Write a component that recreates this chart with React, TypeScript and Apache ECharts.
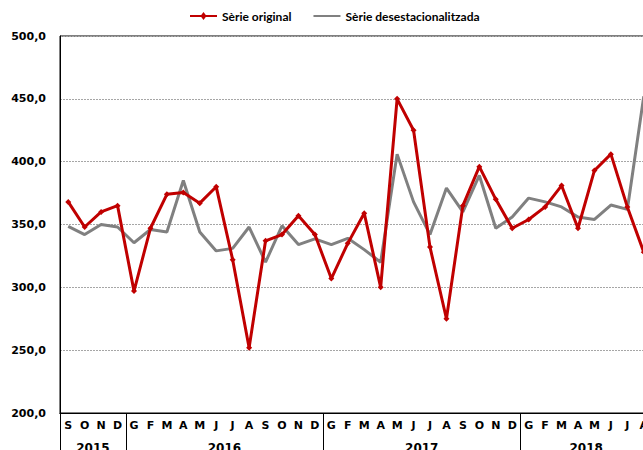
import React, { useEffect, useRef } from "react";
import * as echarts from "echarts";

const months = [
  "S", "O", "N", "D",
  "G", "F", "M", "A", "M", "J", "J", "A", "S", "O", "N", "D",
  "G", "F", "M", "A", "M", "J", "J", "A", "S", "O", "N", "D",
  "G", "F", "M", "A", "M", "J", "J", "A",
];
const years = ["2015", "2016", "2017", "2018"];
const monthsPerYear = [4, 12, 12, 8];
const serieOriginal = [
  368, 348, 360, 365,
  297, 347, 374, 375.5, 367, 380, 322, 252, 337, 342, 357, 342,
  307, 335, 359, 300, 450, 425, 332, 275, 365, 396, 370, 347,
  354, 364, 381, 347, 393, 406, 364, 328,
];
const serieDesest = [
  348.5, 342, 350, 348,
  335.5, 346, 344, 385, 344, 329, 331, 348, 320, 349, 334, 338.5,
  334, 339, 330, 320, 406, 368, 342, 379, 360, 389, 347, 356,
  371, 368, 364, 356, 354, 365.5, 362, 452,
];
const yTicks = { min: 200, max: 500, interval: 50 };

export default function App() {
  const ref = useRef<HTMLDivElement>(null);
  useEffect(() => {
    if (!ref.current) return;
    const chart = echarts.init(ref.current, null, { renderer: "svg" });
    const bounds: number[] = [];
    const centers: number[] = [];
    let acc = 0;
    monthsPerYear.forEach((n) => {
      bounds.push(acc);
      centers.push(acc + n / 2);
      acc += n;
    });
    chart.setOption({
      animation: false,
      backgroundColor: "#ffffff",
      legend: {
        left: 185,
        top: 5,
        itemWidth: 27,
        itemHeight: 8,
        itemGap: 22,
        textStyle: { fontFamily: "Lato", fontWeight: "bold", fontSize: 12, color: "#000" },
        data: [
          { name: "Sèrie original", icon: "path://M0,4 L27,4 L27,6 L0,6 Z M13.5,1 L16.5,5 L13.5,9 L10.5,5 Z" },
          { name: "Sèrie desestacionalitzada", icon: "path://M0,4 L27,4 L27,6 L0,6 Z" },
        ],
      },
      grid: {
        left: 60,
        top: 36,
        width: 592,
        bottom: 37,
        containLabel: false,
        outerBoundsMode: "none",
        show: true,
        borderColor: "#000",
        borderWidth: 1,
      },
      xAxis: [
        {
          type: "category",
          data: months,
          boundaryGap: true,
          axisLine: { show: true, lineStyle: { color: "#000", width: 1 } },
          axisTick: { show: false },
          axisLabel: {
            interval: 0,
            margin: 7,
            fontFamily: "DejaVu Sans",
            fontWeight: "bold",
            fontSize: 11,
            color: "#000",
          },
          splitLine: { show: false },
        },
        {
          type: "value",
          position: "bottom",
          min: 0,
          max: months.length,
          axisLine: { show: true, lineStyle: { color: "#000", width: 1 } },
          axisTick: {
            show: true,
            customValues: bounds,
            length: 40,
            lineStyle: { color: "#000", width: 1 },
          },
          axisLabel: {
            customValues: centers,
            margin: 29,
            fontFamily: "DejaVu Sans",
            fontWeight: "bold",
            fontSize: 12,
            color: "#000",
            formatter: (v: number) => {
              const i = centers.indexOf(v);
              return i >= 0 ? years[i] : "";
            },
          },
          splitLine: { show: false },
        },
      ],
      yAxis: {
        type: "value",
        min: yTicks.min,
        max: yTicks.max,
        interval: yTicks.interval,
        axisLine: { show: true, lineStyle: { color: "#000", width: 1 } },
        axisTick: { show: false },
        axisLabel: {
          margin: 14,
          fontFamily: "DejaVu Sans",
          fontWeight: "bold",
          fontSize: 11,
          color: "#000",
          formatter: (v: number) => v.toFixed(1).replace(".", ","),
        },
        splitLine: { show: true, lineStyle: { color: "#a6a6a6", type: [2, 1], width: 1 } },
      },
      series: [
        {
          name: "Sèrie desestacionalitzada",
          type: "line",
          xAxisIndex: 0,
          data: serieDesest,
          symbol: "none",
          lineStyle: { color: "#808080", width: 3 },
          itemStyle: { color: "#808080" },
          z: 2,
        },
        {
          name: "Sèrie original",
          type: "line",
          xAxisIndex: 0,
          data: serieOriginal,
          symbol: "diamond",
          symbolSize: 6,
          showSymbol: true,
          lineStyle: { color: "#c00000", width: 3 },
          itemStyle: { color: "#c00000" },
          z: 3,
        },
      ],
    });
    return () => chart.dispose();
  }, []);
  return (
    <div style={{ position: "absolute", left: 0, top: 0, width: 643, height: 450, overflow: "hidden", background: "#fff" }}>
      <div ref={ref} style={{ width: 700, height: 450 }} />
    </div>
  );
}
